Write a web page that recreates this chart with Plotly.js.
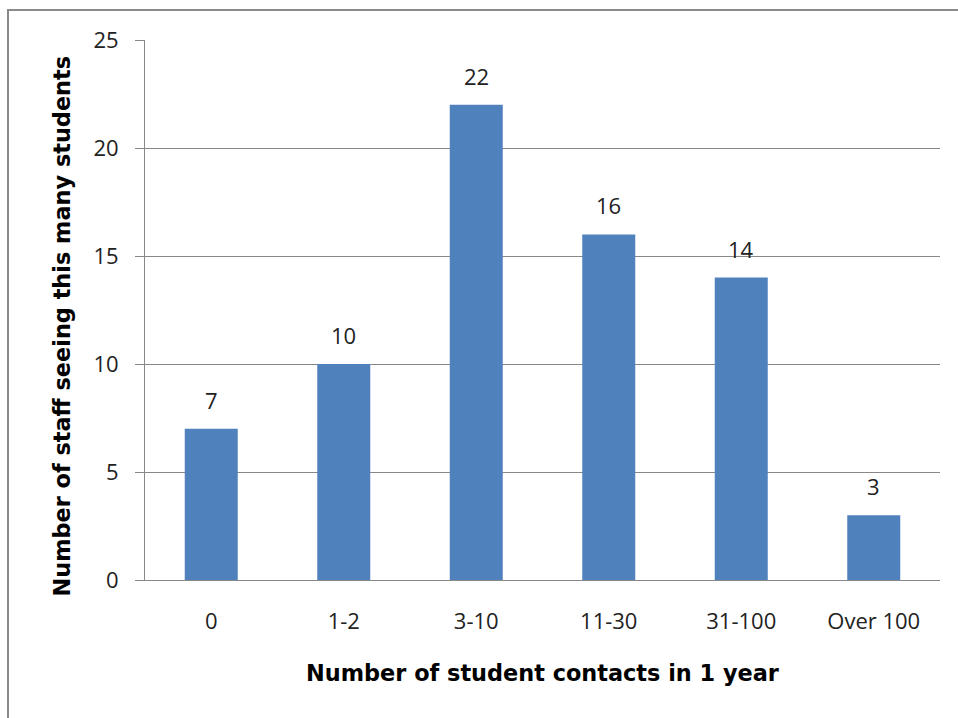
<!DOCTYPE html>
<html>
<head>
<meta charset="utf-8">
<script src="https://cdn.plot.ly/plotly-3.0.1.min.js"></script>
<style>
  html, body { margin: 0; padding: 0; background: #fff; }
  #wrap { position: relative; width: 958px; height: 718px; overflow: hidden; }
  #chart { width: 958px; height: 718px; }
  #frame {
    position: absolute; left: 7px; top: 9px; width: 1000px; height: 800px;
    border-left: 2px solid #8a8a8a; border-top: 2px solid #8a8a8a;
    pointer-events: none;
  }
</style>
</head>
<body>
<div id="wrap">
  <div id="chart"></div>
  <div id="frame"></div>
</div>
<script>
// Staff by number of student contacts per year
const categories = ["0", "1-2", "3-10", "11-30", "31-100", "Over 100"];
const staffCounts = [7, 10, 22, 16, 14, 3];
const yTicks = [0, 5, 10, 15, 20, 25];
const xTitle = "Number of student contacts in 1 year";
const yTitle = "Number of staff seeing this many students";

const gridGrey = "#888888";
const labelFont = { family: "Open Sans, sans-serif", size: 22, color: "#222" };
const titleFont = { family: "DejaVu Sans, Verdana, sans-serif", size: 22.4, color: "#000", weight: "bold" };

const trace = {
  type: "bar",
  x: categories,
  y: staffCounts,
  marker: { color: "#4F81BD" },
  hoverinfo: "skip"
};

// value labels above each bar
const valueLabels = categories.map((c, i) => ({
  x: c, y: staffCounts[i], xref: "x", yref: "y",
  text: String(staffCounts[i]), showarrow: false,
  yanchor: "bottom", yshift: 12, font: labelFont
}));

// vertical axis title, placed slightly below the plot's centre line
const yTitleNote = {
  xref: "paper", yref: "paper", x: -0.104, y: 0.47,
  xanchor: "center", yanchor: "middle",
  text: yTitle, textangle: -90, showarrow: false, font: titleFont
};

const layout = {
  width: 958, height: 718,
  margin: { l: 145, r: 18, t: 40, b: 138 },
  paper_bgcolor: "#fff", plot_bgcolor: "#fff",
  bargap: 0.6,
  showlegend: false,
  xaxis: {
    type: "category",
    tickfont: labelFont,
    ticks: "",
    ticklabelstandoff: 22,
    showgrid: false,
    showline: true, linecolor: gridGrey, linewidth: 1,
    title: { text: xTitle, font: titleFont, standoff: 30 }
  },
  yaxis: {
    range: [0, 25],
    tickvals: yTicks,
    tickfont: labelFont,
    ticks: "outside", ticklen: 9, tickcolor: gridGrey,
    ticklabelstandoff: 12,
    showgrid: true, gridcolor: gridGrey, gridwidth: 1,
    zeroline: false,
    showline: true, linecolor: gridGrey, linewidth: 1
  },
  annotations: valueLabels.concat([yTitleNote])
};

Plotly.newPlot("chart", [trace], layout, { displayModeBar: false, staticPlot: true });
</script>
</body>
</html>
